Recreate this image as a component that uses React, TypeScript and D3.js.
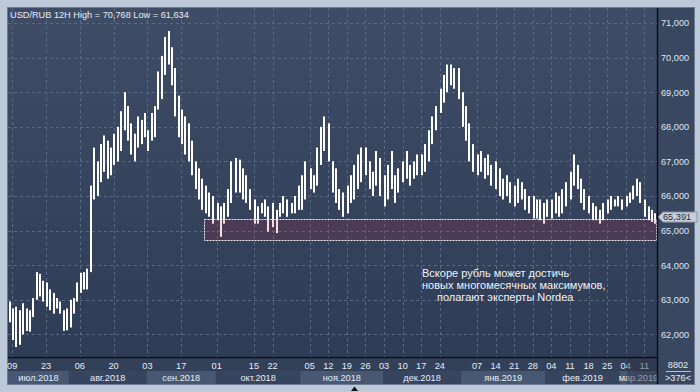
import React from "react";
import * as d3 from "d3";

// Daily high / low of USD/RUB, in thousands of roubles, from 2018-07-06
const highs = [
  62.95, 62.75, 62.8, 62.7, 62.9, 62.75, 62.7, 63.05, 63.8, 63.75,
  63.55, 63.5, 63.3, 63.2, 63.05, 62.95, 62.7, 62.75, 63.0, 63.05,
  63.5, 63.78, 63.8, 63.9, 66.3, 67.4, 67.0, 67.5, 67.75, 67.6,
  67.4, 67.8, 68.0, 68.45, 69.0, 68.6, 68.1, 67.8, 68.3, 68.2,
  68.4, 67.9, 68.4, 68.6, 69.6, 70.05, 70.6, 70.768, 70.3, 69.7,
  68.9, 68.5, 68.3, 68.1, 67.6, 67.0, 66.8, 66.5, 66.3, 66.1,
  66.0, 65.8, 65.7, 65.8, 66.2, 67.0, 67.1, 67.05, 66.8, 66.6,
  66.2, 65.9, 65.7, 65.8, 65.9, 65.7, 65.8, 65.6, 65.8, 66.0,
  65.9, 65.8, 66.0, 66.3, 66.6, 67.0, 66.8, 66.6, 67.4, 68.0,
  68.3, 68.1, 67.0, 66.8, 66.2, 66.1, 66.3, 66.6, 66.9, 67.2,
  67.4, 67.4, 67.0, 66.7, 67.3, 67.1, 66.6, 66.9, 67.3, 66.6,
  66.8, 67.0, 67.3, 66.9, 67.0, 67.2, 67.2, 67.5, 67.9, 68.3,
  68.6, 69.1, 69.5, 69.8, 69.8, 69.7, 69.7, 69.0, 68.6, 68.1,
  67.5, 67.2, 67.3, 67.1, 67.2, 66.9, 67.0, 66.8, 66.5, 66.6,
  66.4, 66.3, 66.5, 66.4, 66.2, 66.0, 66.0, 65.9, 65.9, 65.8,
  65.9, 65.9, 66.1, 66.0, 66.2, 66.4, 66.7, 67.2, 66.9, 66.5,
  66.2, 66.0, 65.8, 65.7, 65.6, 65.8, 65.9, 66.0, 65.9, 66.0,
  65.9, 66.0, 66.1, 66.3, 66.5, 66.4, 65.9, 65.7, 65.6, 65.5,
];
const lows = [
  62.35, 61.84, 61.634, 61.7, 62.0, 62.1, 62.08, 62.5, 63.0, 63.1,
  62.95, 62.8, 62.7, 62.6, 62.75, 62.6, 62.1, 62.12, 62.2, 62.6,
  62.95, 63.2, 63.3, 63.3, 63.8, 65.9, 66.0, 66.4, 66.7, 66.5,
  66.6, 66.9, 67.0, 67.3, 67.9, 67.6, 67.2, 67.0, 67.4, 67.5,
  67.7, 67.3, 67.6, 67.7, 68.5, 68.8, 69.5, 69.8, 69.2, 68.3,
  67.7, 67.5, 67.2, 67.0, 66.6, 66.2, 65.9, 65.6, 65.5, 65.4,
  65.2, 65.3, 64.82, 65.2, 65.4, 65.8, 66.1, 66.1, 65.9, 65.8,
  65.6, 65.2, 65.2, 65.5, 65.4, 64.97, 65.1, 64.93, 65.4, 65.5,
  65.4, 65.5, 65.5, 65.6, 65.6, 65.9, 66.2, 66.1, 66.3, 66.9,
  67.3, 67.0, 66.1, 65.8, 65.6, 65.4, 65.5, 65.8, 65.9, 66.2,
  66.4, 66.6, 66.2, 66.0, 66.3, 66.0, 65.7, 65.9, 66.2, 65.8,
  66.1, 66.4, 66.5, 66.3, 66.5, 66.6, 66.6, 66.7, 67.0, 67.5,
  67.9, 68.4, 68.7, 69.0, 69.2, 69.1, 68.8, 68.0, 67.6, 67.0,
  66.7, 66.6, 66.7, 66.5, 66.6, 66.3, 66.2, 66.0, 65.9, 66.0,
  65.8, 65.7, 65.8, 65.9, 65.6, 65.5, 65.35, 65.35, 65.3, 65.2,
  65.4, 65.35, 65.5, 65.4, 65.5, 65.7, 65.9, 66.3, 66.2, 65.8,
  65.6, 65.5, 65.3, 65.3, 65.2, 65.3, 65.5, 65.6, 65.7, 65.7,
  65.6, 65.7, 65.8, 65.9, 66.0, 65.8, 65.4, 65.3, 65.25, 65.2,
];
const firstDate = "2018-07-06";
// from this date on, the feed carries an extra Sunday 12H bar each week
const sundayBarsFrom = "2018-09-30";
const tickDates = [
  "2018-07-09", "2018-07-23", "2018-08-06", "2018-08-20", "2018-09-03", "2018-09-17",
  "2018-10-01", "2018-10-15", "2018-10-22", "2018-11-05", "2018-11-12", "2018-11-19",
  "2018-11-26", "2018-12-03", "2018-12-10", "2018-12-17", "2018-12-24", "2019-01-07",
  "2019-01-14", "2019-01-21", "2019-01-28", "2019-02-04", "2019-02-11", "2019-02-18",
  "2019-02-25", "2019-03-04", "2019-03-11",
];
const priceTicks = [62, 63, 64, 65, 66, 67, 68, 69, 70, 71];
const monthNames = ["янв", "фев", "мар", "апр", "май", "июн", "июл", "авг", "сен", "окт", "ноя", "дек"];
const lastClose = 65.391;
const zoneStart = "2018-09-26";
const zoneTop = 65.35;
const zoneBottom = 64.72;
const noteLines = ["Вскоре рубль может достичь", "новых многомесячных максимумов,", "полагают эксперты Nordea"];
const instrument = "USD/RUB 12H";
const volumeText = "8802";
const barsText = ">376<";

function tradingDays(start: string, n: number): Date[] {
  const out: Date[] = [];
  const d = new Date(start + "T00:00:00Z");
  while (out.length < n) {
    const wd = d.getUTCDay();
    if (wd !== 0 && wd !== 6) out.push(new Date(d.getTime()));
    d.setUTCDate(d.getUTCDate() + 1);
  }
  return out;
}

const FONT = "'Liberation Sans', Arial, sans-serif";

export default function App() {
  const W = 700, H = 392;
  const L = 8, R = 657, T = 8, B = 357, PR = 694, PB = 384;
  const N = highs.length;
  const dates = tradingDays(firstDate, N);
  const keys = dates.map((d) => d.toISOString().slice(0, 10));

  // 12H bar slots: two per trading day, plus one Sunday slot per week after sundayBarsFrom
  const slots: number[] = [];
  let b = 0;
  keys.forEach((k, i) => {
    if (dates[i].getUTCDay() === 1 && k > sundayBarsFrom) b += 1;
    slots.push(b);
    b += 2;
  });
  const x = d3.scaleLinear().domain([0, b]).range([L, R]);
  const y = d3.scaleLinear().domain([61.347, 71.434]).range([B, T]);
  const fmt = d3.format(",.0f");
  const hi = d3.max(highs) as number;
  const lo = d3.min(lows) as number;

  // month bands
  const bands: { label: string; x0: number; x1: number }[] = [];
  dates.forEach((d, i) => {
    const label = `${monthNames[d.getUTCMonth()]}.${d.getUTCFullYear()}`;
    if (!bands.length || bands[bands.length - 1].label !== label) {
      const x0 = i === 0 ? L : x(slots[i]);
      if (bands.length) bands[bands.length - 1].x1 = x0;
      bands.push({ label, x0, x1: R });
    }
  });

  const ticks = tickDates
    .map((t) => ({ t, i: keys.indexOf(t) }))
    .filter((d) => d.i >= 0)
    .map((d) => ({ t: d.t, px: x(slots[d.i] + 0.5) }));

  const zx = Math.round(x(slots[keys.indexOf(zoneStart)]));
  const py = y(lastClose);

  return (
    <svg width={W} height={H} style={{ position: "absolute", left: 0, top: 0 }} fontFamily={FONT}>
      <defs>
        <linearGradient id="bg" x1="0" y1="0" x2="0" y2="1">
          <stop offset="0" stopColor="#3f4c66" />
          <stop offset="1" stopColor="#2f3c56" />
        </linearGradient>
        <clipPath id="plot">
          <rect x={L} y={T} width={R - L} height={B - T} />
        </clipPath>
      </defs>
      <rect x={0} y={0} width={W} height={H} fill="#bdc9d8" />
      <rect x={L - 0.5} y={T - 0.5} width={PR - L + 1} height={PB - T + 1} fill="#34415b" stroke="#6d7c93" />
      <rect x={L} y={T} width={R - L} height={B - T} fill="url(#bg)" />
      <rect x={R} y={T} width={PR - R} height={B - T} fill="#3a4761" />

      {/* grid */}
      <g strokeWidth={1} strokeDasharray="3,3" stroke="#596884">
        {priceTicks.map((v) => (
          <line key={v} x1={L} x2={R} y1={Math.round(y(v)) + 0.5} y2={Math.round(y(v)) + 0.5} />
        ))}
        {ticks.map((d) => (
          <line key={d.t} x1={Math.round(d.px) + 0.5} x2={Math.round(d.px) + 0.5} y1={T} y2={B} />
        ))}
      </g>

      {/* bars */}
      <g clipPath="url(#plot)" fill="#ffffff">
        {highs.map((h, i) => {
          const y0 = y(h);
          const y1 = y(lows[i]);
          return (
            <rect key={i} x={Math.round(x(slots[i] + 1)) - 1} y={y0} width={2} height={Math.max(1, y1 - y0)} />
          );
        })}
      </g>

      {/* zone */}
      <rect
        x={zx + 0.5}
        y={Math.round(y(zoneTop)) + 0.5}
        width={R - zx - 1}
        height={Math.round(y(zoneBottom)) - Math.round(y(zoneTop))}
        fill="rgba(210,20,45,0.15)"
        stroke="#f4f0f4"
        strokeWidth={1}
        strokeDasharray="2,1"
      />

      {/* title */}
      <text x={10} y={18} fontSize={9.2} fill="#e6ecf4">
        {`${instrument} High = ${fmt(hi * 1000)} Low = ${fmt(lo * 1000)}`}
      </text>

      {/* annotation */}
      <g fontSize={11} fill="#eef2f8">
        <text x={422} y={277}>{noteLines[0]}</text>
        <text x={422} y={289}>{noteLines[1]}</text>
        <text x={437} y={300.5}>{noteLines[2]}</text>
      </g>

      {/* right axis */}
      <g fontSize={9.2} fill="#dfe6ef">
        {priceTicks.map((v) => (
          <text key={v} x={661} y={y(v) + 3.3}>{fmt(v * 1000)}</text>
        ))}
      </g>

      {/* last price marker */}
      <polygon
        points={`${R + 1},${py} ${R + 6},${py - 5} ${697},${py - 5} ${697},${py + 5} ${R + 6},${py + 5}`}
        fill="#c6cdd6"
        stroke="#8c97a8"
      />
      <text x={663} y={py + 3.3} fontSize={9.2} fill="#1f2b45">{fmt(lastClose * 1000)}</text>

      {/* bottom axis */}
      <rect x={L} y={B} width={R - L} height={14} fill="#33405a" />
      {bands.map((bd, k) => (
        <g key={bd.label}>
          <rect x={bd.x0} y={371} width={bd.x1 - bd.x0} height={PB - 371} fill={k % 2 === 0 ? "#485873" : "#37445e"} />
          <text x={(bd.x0 + bd.x1) / 2} y={380.5} textAnchor="middle" fontSize={9.2} fill="#e6ecf4">{bd.label}</text>
        </g>
      ))}
      {ticks.map((d) => (
        <text key={d.t} x={d.px} y={369} textAnchor="middle" fontSize={9.2} fill="#e6ecf4">
          {d.t.slice(8, 10)}
        </text>
      ))}
      <rect x={627} y={B} width={R - 627} height={PB - B} fill="rgba(45,50,66,0.45)" />
      <rect x={R} y={B} width={PR - R} height={PB - B} fill="#3a4761" />
      <text x={678} y={368} textAnchor="middle" fontSize={9.2} fill="#e6ecf4">{volumeText}</text>
      <line x1={666} x2={691} y1={371.5} y2={371.5} stroke="#b8c2d0" />
      <text x={678} y={381} textAnchor="middle" fontSize={9.2} fill="#e6ecf4">{barsText}</text>

      {/* frame lines */}
      <line x1={L} x2={R} y1={B + 0.5} y2={B + 0.5} stroke="#0c0f18" strokeWidth={1.5} />
      <line x1={R + 0.5} x2={R + 0.5} y1={T} y2={PB} stroke="#0c0f18" strokeWidth={1.5} />
      <polygon points="351,391 354.5,386.5 358,391" fill="#111" />
    </svg>
  );
}
